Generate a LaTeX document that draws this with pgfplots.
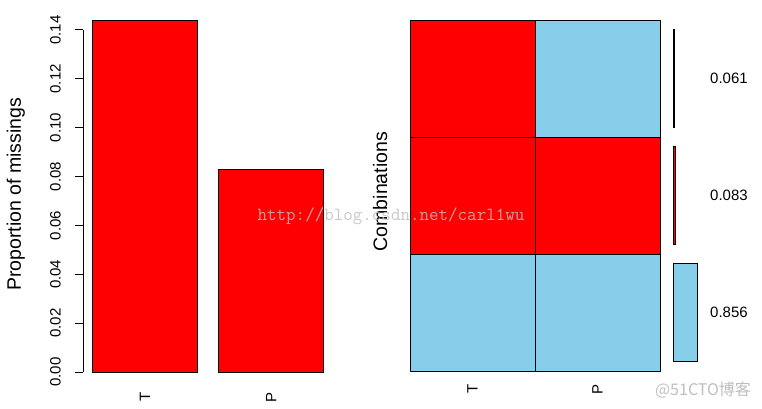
\documentclass[border=0pt]{standalone}
\usepackage{fontspec}
\setmainfont{Liberation Sans}
\newfontfamily\cjk{Noto Sans CJK SC}
\usepackage{pgfplots}
\pgfplotsset{compat=1.18}
\usepgfplotslibrary{patchplots}
\usepackage{pgfplotstable}
\definecolor{vimred}{RGB}{255,0,0}
\definecolor{vimblue}{RGB}{135,206,235}
\definecolor{wmark}{RGB}{190,190,190}

% proportion of missings per variable
\pgfplotstableread{
x y
0.7 0.144
1.9 0.083
}\missprop

% combination pattern cells (4 corners each): 1 = missing (red), 0 = observed (blue)
\pgfplotstableread{
x y c
0 0 0
1 0 0
1 1 0
0 1 0
1 0 0
2 0 0
2 1 0
1 1 0
0 1 1
1 1 1
1 2 1
0 2 1
1 1 1
2 1 1
2 2 1
1 2 1
0 2 1
1 2 1
1 3 1
0 3 1
1 2 0
2 2 0
2 3 0
1 3 0
}\combos

% proportions of the combinations
\pgfplotstableread{
y p
2.5 0.061
1.5 0.083
}\combomiss
\pgfplotstableread{
y p
0.5 0.856
}\combocomplete

\begin{document}
\begin{tikzpicture}[x=1pt,y=1pt]
\path[use as bounding box] (0,0) rectangle (762,408);

% ---------- left: proportion of missings ----------
\begin{axis}[
  at={(83pt,36pt)}, anchor=south west, scale only axis,
  width=250pt, height=342pt,
  xmin=0.112, xmax=2.488, ymin=0, ymax=0.14, clip=false,
  axis x line*=bottom, axis y line*=left,
  x axis line style={draw=none},
  axis line style={-, line width=1pt},
  xtick={0.7,1.9}, xticklabels={T,P},
  x tick style={draw=none},
  xticklabel style={rotate=90, anchor=east, inner sep=0pt, font=\fontsize{15}{18}\selectfont},
  xticklabel shift=12pt,
  ytick={0,0.02,0.04,0.06,0.08,0.1,0.12,0.14},
  tick align=outside, major tick length=8pt,
  y tick style={line width=1pt, black},
  yticklabel style={rotate=90, anchor=south, inner sep=0pt, font=\fontsize{15}{18}\selectfont,
    /pgf/number format/.cd, fixed, fixed zerofill, precision=2, assume math mode=true},
  yticklabel shift=14pt,
  scaled y ticks=false,
  ylabel={Proportion of missings},
  ylabel style={at={(axis description cs:-0.248,0.52)}, anchor=base, rotate=0, font=\fontsize{19.5}{22}\selectfont},
]
\addplot[ybar, bar width=1, bar shift=0pt, fill=vimred, draw=black, line width=1pt] table[x=x,y=y]{\missprop};
\end{axis}

% ---------- right: combinations grid ----------
\begin{axis}[
  at={(410pt,37pt)}, anchor=south west, scale only axis,
  width=250pt, height=351pt,
  xmin=0, xmax=2, ymin=0, ymax=3, clip=false,
  axis line style={draw=none},
  xtick={0.5,1.5}, xticklabels={T,P},
  x tick style={draw=none},
  xticklabel style={rotate=90, anchor=east, inner sep=0pt, font=\fontsize{15}{18}\selectfont},
  xticklabel shift=13pt,
  ytick=\empty,
  colormap={vim}{rgb255=(135,206,235) rgb255=(255,0,0)},
  point meta min=0, point meta max=1,
  ylabel={Combinations},
  ylabel style={at={(axis description cs:-0.092,0.511)}, anchor=base, font=\fontsize{19.5}{22}\selectfont},
]
\addplot[patch, patch type=rectangle, shader=faceted, faceted color=black, line width=1pt, point meta=explicit]
  table[x=x,y=y,meta=c]{\combos};
\end{axis}

% ---------- right: proportions of combinations ----------
\begin{axis}[
  at={(673pt,37pt)}, anchor=south west, scale only axis,
  width=24pt, height=351pt,
  xmin=0, xmax=0.856, ymin=0, ymax=3, clip=false,
  axis x line=none, axis y line*=right,
  y axis line style={draw=none},
  ytick={0.5,1.5,2.5}, yticklabels={0.856,0.083,0.061},
  y tick style={draw=none},
  yticklabel style={anchor=west, inner sep=0pt, font=\fontsize{15}{18}\selectfont},
  yticklabel shift=13pt,
]
\addplot[xbar, bar width=0.83, bar shift=0pt, fill=vimred, draw=black, line width=1pt] table[x=p,y=y]{\combomiss};
\addplot[xbar, bar width=0.83, bar shift=0pt, fill=vimblue, draw=black, line width=1pt] table[x=p,y=y]{\combocomplete};
\end{axis}

% ---------- watermarks ----------
\node[anchor=base, text=wmark, opacity=0.85, font=\ttfamily\fontsize{18.5}{20}\selectfont, inner sep=0pt] at (391,188) {http://blog.csdn.net/carl1wu};
\node[text=wmark, font=\cjk\fontsize{16}{18}\selectfont, inner sep=0pt] at (703,18) {@51CTO博客};
\end{tikzpicture}
\end{document}
